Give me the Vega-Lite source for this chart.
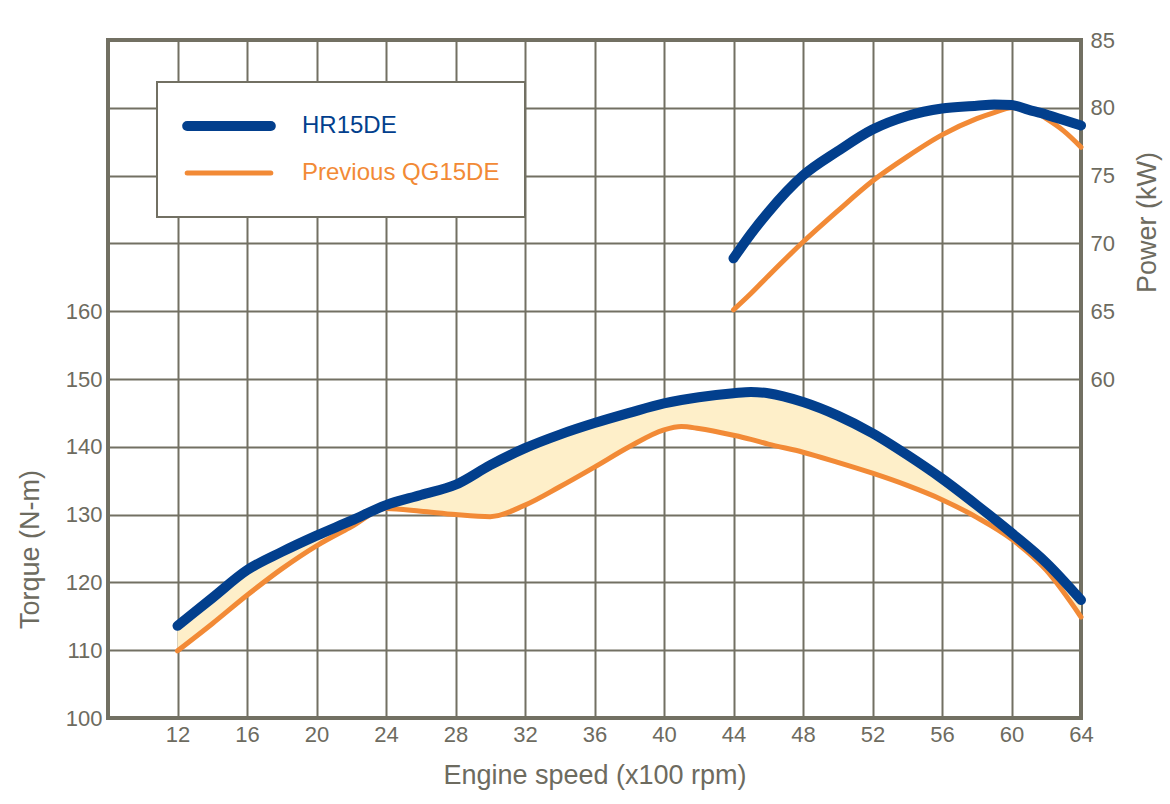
{
  "$schema": "https://vega.github.io/schema/vega-lite/v6.json",
  "width": 973,
  "height": 678,
  "autosize": {"type": "none"},
  "padding": {"left": 108, "top": 40, "right": 89, "bottom": 86},
  "background": "white",
  "config": {
    "font": "Liberation Sans",
    "view": {"stroke": "#727063", "strokeWidth": 4},
    "axis": {
      "labelFont": "Liberation Sans",
      "titleFont": "Liberation Sans",
      "labelColor": "#6d6b5f",
      "titleColor": "#6d6b5f",
      "labelFontSize": 22,
      "titleFontSize": 27,
      "titleFontWeight": "normal",
      "ticks": false,
      "domain": false,
      "labelFlush": false,
      "gridColor": "#727063",
      "gridWidth": 2,
      "gridOpacity": 1
    },
    "legend": {
      "orient": "none",
      "legendX": 49,
      "legendY": 42,
      "symbolType": "stroke",
      "symbolSize": 7000,
      "clipHeight": 38,
      "labelFont": "Liberation Sans",
      "labelFontSize": 24,
      "labelLimit": 400,
      "labelOffset": 26,
      "padding": 25,
      "rowPadding": 9,
      "fillColor": "white",
      "strokeColor": "#727063"
    }
  },
  "datasets": {
    "torque": [
      {"rpm": 12, "HR15DE": 113.6, "QG15DE": 109.9},
      {"rpm": 14, "HR15DE": 117.7, "QG15DE": 113.9},
      {"rpm": 16, "HR15DE": 121.8, "QG15DE": 118.1},
      {"rpm": 18, "HR15DE": 124.5, "QG15DE": 122.0},
      {"rpm": 20, "HR15DE": 126.9, "QG15DE": 125.4},
      {"rpm": 22, "HR15DE": 129.1, "QG15DE": 128.2},
      {"rpm": 24, "HR15DE": 131.4, "QG15DE": 130.9},
      {"rpm": 26, "HR15DE": 132.9, "QG15DE": 130.5},
      {"rpm": 28, "HR15DE": 134.4, "QG15DE": 130.0},
      {"rpm": 30, "HR15DE": 137.3, "QG15DE": 129.7},
      {"rpm": 32, "HR15DE": 139.8, "QG15DE": 131.4},
      {"rpm": 34, "HR15DE": 141.8, "QG15DE": 134.1},
      {"rpm": 36, "HR15DE": 143.5, "QG15DE": 137.0},
      {"rpm": 38, "HR15DE": 145.0, "QG15DE": 140.0},
      {"rpm": 40, "HR15DE": 146.4, "QG15DE": 142.5},
      {"rpm": 41, "HR15DE": 146.9, "QG15DE": 143.0},
      {"rpm": 42, "HR15DE": 147.3, "QG15DE": 142.7},
      {"rpm": 44, "HR15DE": 147.9, "QG15DE": 141.7},
      {"rpm": 45, "HR15DE": 148.1, "QG15DE": 141.1},
      {"rpm": 46, "HR15DE": 147.9, "QG15DE": 140.4},
      {"rpm": 48, "HR15DE": 146.6, "QG15DE": 139.2},
      {"rpm": 50, "HR15DE": 144.6, "QG15DE": 137.7},
      {"rpm": 52, "HR15DE": 142.0, "QG15DE": 136.1},
      {"rpm": 54, "HR15DE": 138.8, "QG15DE": 134.3},
      {"rpm": 56, "HR15DE": 135.3, "QG15DE": 132.2},
      {"rpm": 58, "HR15DE": 131.4, "QG15DE": 129.6},
      {"rpm": 60, "HR15DE": 127.3, "QG15DE": 126.4},
      {"rpm": 62, "HR15DE": 122.9, "QG15DE": 121.8},
      {"rpm": 64, "HR15DE": 117.4, "QG15DE": 114.9}
    ],
    "power": [
      {"rpm": 44, "HR15DE": 68.9, "QG15DE": 65.1},
      {"rpm": 45, "HR15DE": 70.7, "QG15DE": 66.3},
      {"rpm": 46, "HR15DE": 72.3, "QG15DE": 67.6},
      {"rpm": 48, "HR15DE": 75.0, "QG15DE": 70.1},
      {"rpm": 50, "HR15DE": 76.8, "QG15DE": 72.4},
      {"rpm": 52, "HR15DE": 78.4, "QG15DE": 74.6},
      {"rpm": 54, "HR15DE": 79.4, "QG15DE": 76.4},
      {"rpm": 56, "HR15DE": 79.95, "QG15DE": 78.0},
      {"rpm": 58, "HR15DE": 80.15, "QG15DE": 79.2},
      {"rpm": 59, "HR15DE": 80.25, "QG15DE": 79.65},
      {"rpm": 60, "HR15DE": 80.2, "QG15DE": 80.0},
      {"rpm": 61, "HR15DE": 79.85, "QG15DE": 79.9},
      {"rpm": 62, "HR15DE": 79.5, "QG15DE": 79.2},
      {"rpm": 63, "HR15DE": 79.1, "QG15DE": 78.3},
      {"rpm": 64, "HR15DE": 78.7, "QG15DE": 77.1}
    ]
  },
  "encoding": {
    "x": {
      "field": "rpm",
      "type": "quantitative",
      "scale": {"domain": [8, 64], "nice": false, "zero": false},
      "axis": {
        "values": [12, 16, 20, 24, 28, 32, 36, 40, 44, 48, 52, 56, 60, 64],
        "title": "Engine speed (x100 rpm)",
        "labelPadding": 6,
        "titleY": 65,
        "titleBaseline": "alphabetic"
      }
    }
  },
  "layer": [
    {
      "data": {"name": "torque"},
      "encoding": {
        "y": {
          "field": "value",
          "type": "quantitative",
          "title": "Torque (N-m)",
          "scale": {"domain": [100, 200], "nice": false, "zero": false},
          "axis": {
            "orient": "left",
            "values": [100, 110, 120, 130, 140, 150, 160, 170, 180, 190, 200],
            "labelExpr": "datum.value <= 160 ? datum.label : ''",
            "labelPadding": 6,
            "grid": true,
            "titleX": -78,
            "titleY": 509,
            "titleAngle": 270,
            "titleAlign": "center",
            "titleBaseline": "middle"
          }
        }
      },
      "layer": [
        {
          "mark": {"type": "area", "interpolate": "monotone", "color": "#feefc9"},
          "encoding": {
            "y": {"field": "HR15DE", "type": "quantitative", "title": "Torque (N-m)"},
            "y2": {"field": "QG15DE"}
          }
        },
        {
          "transform": [{"fold": ["QG15DE"], "as": ["series", "value"]}],
          "mark": {"type": "line", "interpolate": "monotone", "strokeCap": "round", "strokeJoin": "round"},
          "encoding": {
            "color": {
              "field": "series",
              "type": "nominal",
              "title": null,
              "scale": {"domain": ["HR15DE", "QG15DE"], "range": ["#023f8d", "#f28a36"]},
              "legend": {
                "labelExpr": "datum.label == 'QG15DE' ? 'Previous QG15DE' : datum.label",
                "encode": {
                  "symbols": {"update": {"strokeCap": {"value": "round"}}},
                  "labels": {"update": {"fill": {"signal": "datum.value == 'HR15DE' ? '#023f8d' : '#f28a36'"}}},
                  "legend": {"update": {"strokeWidth": {"value": 2}}}
                }
              }
            },
            "strokeWidth": {
              "field": "series",
              "type": "nominal",
              "title": null,
              "scale": {"domain": ["HR15DE", "QG15DE"], "range": [10, 5]}
            }
          }
        },
        {
          "transform": [{"fold": ["HR15DE"], "as": ["series", "value"]}],
          "mark": {"type": "line", "interpolate": "monotone", "strokeCap": "round", "strokeJoin": "round"},
          "encoding": {
            "color": {"field": "series", "type": "nominal", "title": null},
            "strokeWidth": {"field": "series", "type": "nominal", "title": null}
          }
        }
      ]
    },
    {
      "data": {"name": "power"},
      "encoding": {
        "y": {
          "field": "value",
          "type": "quantitative",
          "title": "Power (kW)",
          "scale": {"domain": [35, 85], "nice": false, "zero": false},
          "axis": {
            "orient": "right",
            "values": [60, 65, 70, 75, 80, 85],
            "labelPadding": 9,
            "grid": false,
            "titleX": 66,
            "titleY": 182,
            "titleAngle": 270,
            "titleAlign": "center",
            "titleBaseline": "middle"
          }
        }
      },
      "layer": [
        {
          "transform": [{"fold": ["QG15DE"], "as": ["series", "value"]}],
          "mark": {"type": "line", "interpolate": "monotone", "strokeCap": "round", "strokeJoin": "round"},
          "encoding": {
            "color": {"field": "series", "type": "nominal", "title": null},
            "strokeWidth": {"field": "series", "type": "nominal", "title": null}
          }
        },
        {
          "transform": [{"fold": ["HR15DE"], "as": ["series", "value"]}],
          "mark": {"type": "line", "interpolate": "monotone", "strokeCap": "round", "strokeJoin": "round"},
          "encoding": {
            "color": {"field": "series", "type": "nominal", "title": null},
            "strokeWidth": {"field": "series", "type": "nominal", "title": null}
          }
        }
      ]
    }
  ],
  "resolve": {"scale": {"y": "independent"}}
}
